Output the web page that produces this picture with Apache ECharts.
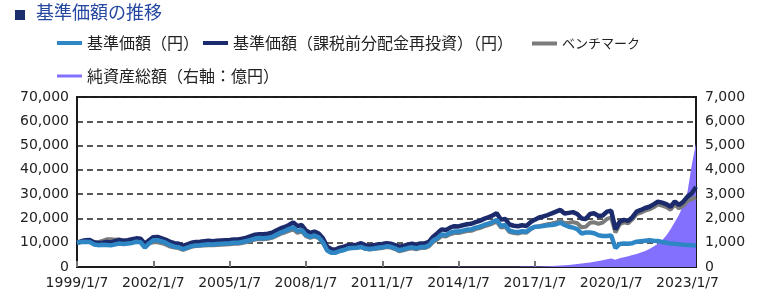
<!DOCTYPE html>
<html><head><meta charset="utf-8">
<script src="https://cdn.jsdelivr.net/npm/echarts@6/dist/echarts.min.js"></script>
<style>html,body{margin:0;padding:0;background:#fff}#c{width:760px;height:298px}</style>
</head><body><div id="c"></div>
<script>
// bi-monthly observations (Jan, Mar, May, Jul, Sep, Nov) from 1999/1/7 to 2023/5/7
const startYear = 1999;
const nPoints = 147;
const xTickLabels = ['1999/1/7','2002/1/7','2005/1/7','2008/1/7','2011/1/7','2014/1/7','2017/1/7','2020/1/7','2023/1/7'];
const leftTicks = [0,10000,20000,30000,40000,50000,60000,70000];
const rightTicks = [0,1000,2000,3000,4000,5000,6000,7000];

const navReinvest = [
 10000,10600,11000,11100,10200,9900,
 10000,10300,10100,10700,11000,10800,
 11000,11400,11800,11600,9600,11000,
 12300,12400,11800,11200,10300,9800,
 9600,8700,9300,10000,10300,10400,
 10600,10800,10600,10800,10900,11000,
 11100,11300,11300,11700,12100,12700,
 13300,13500,13500,13700,14100,15000,
 15900,16500,17300,18400,16800,17300,
 15000,14000,14600,13800,11800,8400,
 7300,7200,8000,8400,9000,9000,
 9200,9800,9000,8700,9000,9300,
 9500,9800,9600,9000,8400,8700,
 9200,9600,9200,9700,9700,10300,
 12500,13900,15500,15200,16200,16800,
 16700,17200,17600,17800,18500,19000,
 19800,20500,21200,22100,19500,19800,
 17500,17000,16800,17200,16900,18500,
 19500,20400,20800,21400,22100,22800,
 23500,22000,22300,22600,21800,20000,
 19800,21800,22100,21000,21200,22800,
 23200,15500,18700,19400,19000,20500,
 22800,23500,24300,24800,25800,26900,
 26500,25900,24800,27000,25500,26900,
 29000,30300,33000
];
const navBase = [
 10000,10300,10400,10300,9300,9000,
 9200,9100,8900,9300,9700,9500,
 9700,9900,10400,10200,8000,9700,
 11000,11000,10500,9900,9000,8400,
 8100,7400,8000,8600,8900,9000,
 9200,9400,9300,9500,9600,9700,
 9800,10000,10000,10300,10700,11200,
 11700,11900,11800,12000,12400,13300,
 14200,14800,15600,16300,14800,15300,
 13200,12400,13000,12200,10200,6800,
 5900,5900,6600,7000,7700,7800,
 7900,8300,7600,7400,7600,7900,
 8100,8500,8300,7700,6900,7300,
 7800,8100,7700,8200,8200,8900,
 10900,11900,13400,13200,14100,14600,
 14600,15000,15400,15500,16200,16600,
 17300,17900,18500,19400,16900,17300,
 15000,14500,14300,14700,14500,15800,
 16600,16700,16900,17200,17300,17600,
 18300,17300,16600,16200,15600,13800,
 14200,14200,13900,13100,12800,12800,
 13000,7800,9500,9700,9600,9800,
 10400,10600,10800,11000,10800,10700,
 10300,10000,9700,9600,9400,9200,
 9100,9000,8800
];
const benchmark = [
 10000,10300,10700,10800,10000,10200,
 10800,11400,11400,11200,11400,10800,
 10800,10400,10800,10600,8400,9800,
 10200,10200,9800,9200,8400,8000,
 7800,7000,7700,8300,8600,8700,
 8900,9000,9000,9100,9200,9300,
 9400,9600,9600,9900,10300,10800,
 11300,11500,11400,11600,12000,12800,
 13600,14200,14900,15500,14000,14700,
 12700,12000,12600,11900,10000,7000,
 6000,6000,6700,7100,7700,7800,
 7900,8200,7500,7200,7400,7600,
 7800,8200,8000,7400,6500,6900,
 7400,7700,7300,7800,7800,8500,
 10300,11300,12800,12600,13500,14000,
 14000,14400,14800,14900,15600,16000,
 16700,17300,17900,18700,16200,16600,
 14400,14000,13800,14300,14100,15600,
 16500,16800,17200,17600,17900,18300,
 19100,18000,18200,18500,18000,16400,
 16600,18200,18400,17800,18300,19800,
 20300,14200,17600,18400,18000,19600,
 21800,22400,23200,23700,24600,25700,
 25300,24700,23600,25700,24100,25300,
 27200,28000,28500
];
const netAssets = [
 2,2,2,2,2,2,
 2,2,2,2,2,2,
 2,2,2,2,2,2,
 2,2,2,2,2,2,
 2,2,2,2,2,2,
 2,2,2,2,3,3,
 3,3,3,3,3,3,
 3,3,3,3,3,3,
 4,4,4,4,4,4,
 4,4,4,4,4,4,
 4,4,4,4,4,4,
 4,4,4,4,4,4,
 5,5,5,5,5,5,
 5,5,5,5,5,5,
 5,5,6,6,6,6,
 6,6,6,7,7,7,
 7,8,8,8,8,9,
 10,12,14,16,18,20,
 22,25,30,35,40,50,
 60,70,85,100,120,140,
 160,190,220,250,280,320,
 350,300,360,400,440,490,
 540,600,660,740,840,960,
 1100,1300,1550,1850,2150,2550,
 3100,4200,5100
];

const categories = [];
for (let i = 0; i < nPoints; i++) {
  const m = 2 * i;
  categories.push((startYear + Math.floor(m / 12)) + '/' + (m % 12 + 1) + '/7');
}

const FONT = "'DejaVu Sans', Verdana, sans-serif";
const JP = "'Noto Sans CJK JP', sans-serif";
const C_BASE = '#2f86c4', C_NAVY = '#1b2b6c', C_GRAY = '#7b7b7b', C_PURPLE = '#8470ff';
const fmt = v => Number(v).toLocaleString('en-US');

const chart = echarts.init(document.getElementById('c'), null, {renderer: 'canvas'});
const legendCommon = {icon: 'rect', itemWidth: 25, itemHeight: 4, itemGap: 0,
  textStyle: {fontFamily: JP, fontSize: 16, color: '#222'}, selectedMode: false, padding: 0};
chart.setOption({
  animation: false,
  backgroundColor: '#fff',
  graphic: [{type: 'rect', shape: {x: 15, y: 10, width: 10, height: 10}, style: {fill: '#1b2f6e'}}],
  title: {text: '基準価額の推移', left: 36, top: 3, padding: 0,
    textStyle: {fontFamily: JP, fontSize: 18, fontWeight: 'normal', color: '#2447a0'}},
  legend: [
    Object.assign({}, legendCommon, {data: ['基準価額（円）'], left: 57, top: 35}),
    Object.assign({}, legendCommon, {data: ['基準価額（課税前分配金再投資）（円）'], left: 203, top: 35}),
    Object.assign({}, legendCommon, {data: ['ベンチマーク'], left: 532, top: 37,
      textStyle: {fontFamily: JP, fontSize: 13, color: '#222'}}),
    Object.assign({}, legendCommon, {data: ['純資産総額（右軸：億円）'], left: 57, top: 68, itemHeight: 3})
  ],
  grid: {left: 77, right: 64, top: 97, bottom: 31, show: true, borderColor: '#1a1a1a', borderWidth: 2, backgroundColor: 'transparent'},
  xAxis: {
    type: 'category', data: categories, boundaryGap: false,
    axisLine: {show: true, lineStyle: {color: '#1a1a1a', width: 2}},
    axisTick: {show: true, inside: true, length: 6, interval: 17, lineStyle: {color: '#777', width: 2}},
    axisLabel: {interval: 17, margin: 9, fontFamily: FONT, fontSize: 14, color: '#222',
      formatter: v => xTickLabels.indexOf(v) >= 0 ? v : ''},
    splitLine: {show: false}
  },
  yAxis: [
    {type: 'value', min: leftTicks[0], max: leftTicks[leftTicks.length - 1], interval: leftTicks[1] - leftTicks[0],
      axisLine: {show: true, lineStyle: {color: '#1a1a1a', width: 2}}, axisTick: {show: false},
      axisLabel: {margin: 8, fontFamily: FONT, fontSize: 14, color: '#222', formatter: fmt},
      splitLine: {show: true, lineStyle: {color: '#222', width: 1.5, type: [6, 4]}}},
    {type: 'value', min: rightTicks[0], max: rightTicks[rightTicks.length - 1], interval: rightTicks[1] - rightTicks[0],
      axisLine: {show: true, lineStyle: {color: '#1a1a1a', width: 2}}, axisTick: {show: false},
      axisLabel: {margin: 9, fontFamily: FONT, fontSize: 14, color: '#222', formatter: fmt},
      splitLine: {show: false}}
  ],
  series: [
    {name: '純資産総額（右軸：億円）', type: 'line', yAxisIndex: 1, data: netAssets, symbol: 'none',
      color: C_PURPLE, lineStyle: {width: 0}, areaStyle: {color: C_PURPLE, opacity: 1}, z: 1},
    {name: 'ベンチマーク', type: 'line', data: benchmark, symbol: 'none', color: C_GRAY,
      lineStyle: {width: 4, color: C_GRAY}, z: 2},
    {name: '基準価額（課税前分配金再投資）（円）', type: 'line', data: navReinvest, symbol: 'none', color: C_NAVY,
      lineStyle: {width: 4.5, color: C_NAVY}, z: 3},
    {name: '基準価額（円）', type: 'line', data: navBase, symbol: 'none', color: C_BASE,
      lineStyle: {width: 4.5, color: C_BASE}, z: 4}
  ]
});
</script>
</body></html>
